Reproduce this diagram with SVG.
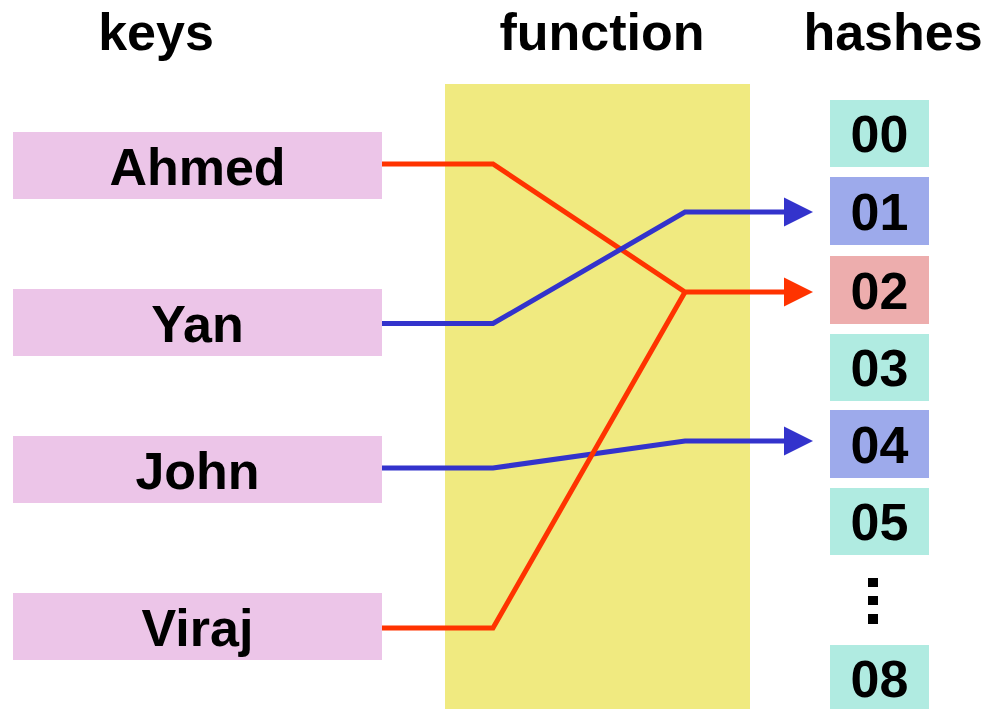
<svg xmlns="http://www.w3.org/2000/svg" width="992" height="709" viewBox="0 0 992 709">
  <defs>
    <style>
      text { font-family: "Liberation Sans", Arial, sans-serif; font-weight: bold; font-size: 52px; fill: #000; text-anchor: middle; }
      .key { fill: #ECC5E8; }
      .free { fill: #B0EBE1; }
      .blueSlot { fill: #9DAAEB; }
      .redSlot { fill: #EDADAD; }
      .red { stroke: #FF3300; }
      .blue { stroke: #3333CC; }
      .wire { fill: none; stroke-width: 5; stroke-linejoin: miter; }
    </style>
  </defs>

  <rect width="992" height="709" fill="#FFFFFF"/>

  <!-- column titles -->
  <g id="titles">
    <text x="156" y="50">keys</text>
    <text x="602" y="50">function</text>
    <text x="893" y="50">hashes</text>
  </g>

  <!-- hash function band -->
  <g id="function">
    <rect x="445" y="84" width="305" height="625" fill="#F0EA80"/>
  </g>

  <!-- keys -->
  <g id="key-ahmed">
    <rect class="key" x="13" y="132" width="369" height="67"/>
    <text x="197.5" y="185">Ahmed</text>
  </g>
  <g id="key-yan">
    <rect class="key" x="13" y="289" width="369" height="67"/>
    <text x="197.5" y="342">Yan</text>
  </g>
  <g id="key-john">
    <rect class="key" x="13" y="436" width="369" height="67"/>
    <text x="197.5" y="489">John</text>
  </g>
  <g id="key-viraj">
    <rect class="key" x="13" y="593" width="369" height="67"/>
    <text x="197.5" y="646">Viraj</text>
  </g>

  <!-- hash slots -->
  <g id="hash-00">
    <rect class="free" x="830" y="100" width="99" height="67"/>
    <text x="879.5" y="152">00</text>
  </g>
  <g id="hash-01">
    <rect class="blueSlot" x="830" y="177" width="99" height="68"/>
    <text x="879.5" y="230">01</text>
  </g>
  <g id="hash-02">
    <rect class="redSlot" x="830" y="256" width="99" height="68"/>
    <text x="879.5" y="309">02</text>
  </g>
  <g id="hash-03">
    <rect class="free" x="830" y="334" width="99" height="67"/>
    <text x="879.5" y="386">03</text>
  </g>
  <g id="hash-04">
    <rect class="blueSlot" x="830" y="410" width="99" height="68"/>
    <text x="879.5" y="463">04</text>
  </g>
  <g id="hash-05">
    <rect class="free" x="830" y="488" width="99" height="67"/>
    <text x="879.5" y="540">05</text>
  </g>
  <g id="ellipsis">
    <rect x="868" y="578" width="10" height="9" fill="#000"/>
    <rect x="868" y="596" width="10" height="9" fill="#000"/>
    <rect x="868" y="614" width="10" height="10" fill="#000"/>
  </g>
  <g id="hash-08">
    <rect class="free" x="830" y="645" width="99" height="64"/>
    <text x="879.5" y="697">08</text>
  </g>

  <!-- mappings from keys to hashes -->
  <g id="connectors">
    <polyline class="wire red" points="382,164 493,164 685,292 785,292"/>
    <polygon fill="#FF3300" points="784,277.5 813,292 784,306.5"/>

    <polyline class="wire blue" points="382,323.5 493,323.5 685,212 785,212"/>
    <polygon fill="#3333CC" points="784,197.5 813,212 784,226.5"/>

    <polyline class="wire blue" points="382,468 493,468 685,441 785,441"/>
    <polygon fill="#3333CC" points="784,426.5 813,441 784,455.5"/>

    <polyline class="wire red" points="382,628 493,628 685,292"/>
  </g>
</svg>
